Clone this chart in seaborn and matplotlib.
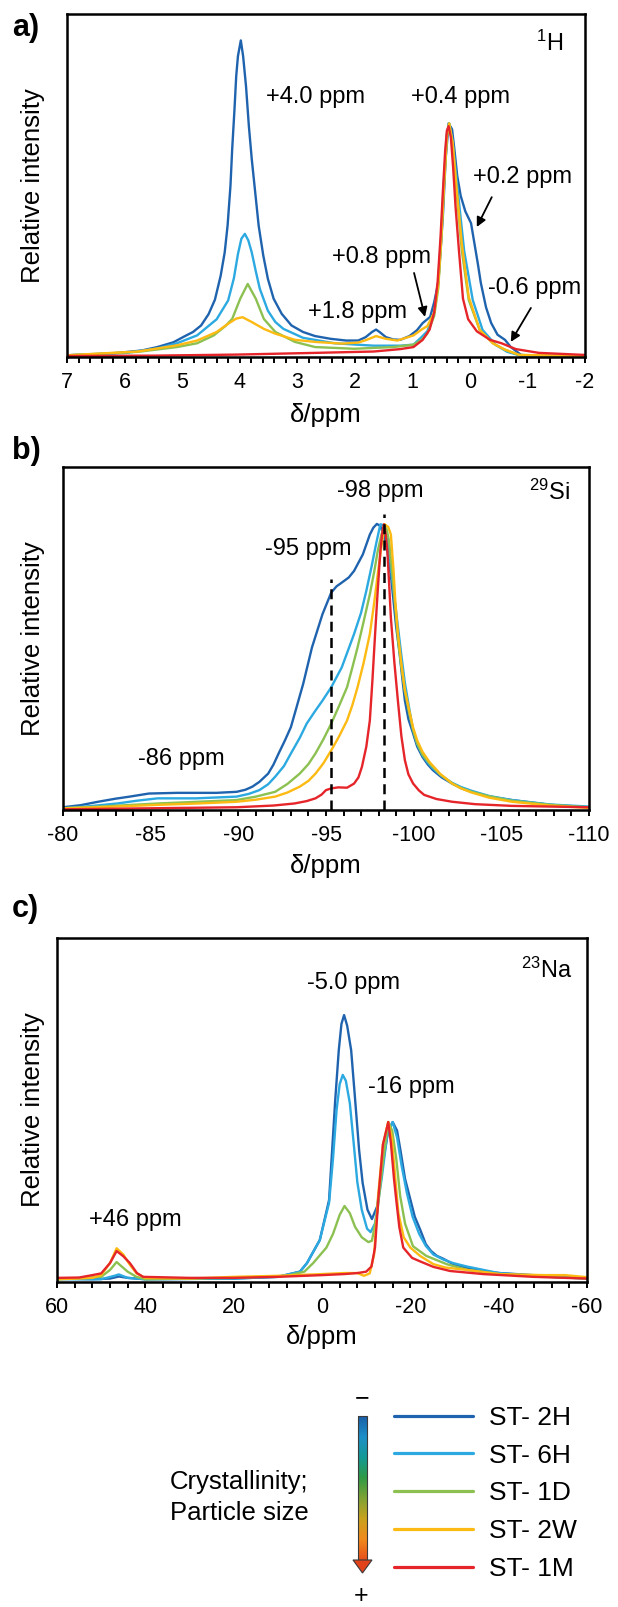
import numpy as np
import pandas as pd
import matplotlib
matplotlib.use("Agg")
import matplotlib.pyplot as plt
import seaborn as sns
from matplotlib.ticker import MultipleLocator
from matplotlib.colors import LinearSegmentedColormap
from matplotlib.patches import Polygon, Rectangle

# ---------------- data ----------------
SAMPLES = ["ST- 2H", "ST- 6H", "ST- 1D", "ST- 2W", "ST- 1M"]
COLORS = ["#1F63AE", "#2BA9E0", "#8CC152", "#FDBA12", "#E5252A"]

# panel a) 1H
A_2H_PPM = [7.00, 6.45, 6.11, 5.70, 5.43, 5.15, 4.95, 4.81, 4.67, 4.54, 4.43, 4.33, 4.26, 4.21, 4.16, 4.13, 4.09, 4.06,
            4.03, 3.98, 3.94, 3.89, 3.84, 3.79, 3.73, 3.67, 3.59, 3.51, 3.41, 3.27, 3.10, 2.90, 2.69, 2.42, 2.15, 1.94,
            1.81, 1.70, 1.63, 1.57, 1.46, 1.33, 1.21, 1.05, 0.92, 0.82, 0.74, 0.69, 0.62, 0.55, 0.51, 0.47, 0.42, 0.37,
            0.31, 0.27, 0.22, 0.16, 0.08, -0.02, -0.08, -0.14, -0.19, -0.28, -0.37, -0.48, -0.61, -0.71, -0.89, -1.20, -2.00]
A_2H_I = [0.5, 0.8, 1.2, 1.9, 2.9, 4.3, 6.1, 7.3, 9.2, 12.5, 16.7, 23.7, 30.5, 38.3, 49.9, 60.6, 72.2, 81.9,
          87.7, 92.3, 87.7, 79.0, 67.3, 57.7, 48.0, 38.3, 29.6, 22.8, 17.0, 12.6, 9.2, 7.3, 6.1, 5.3, 4.8, 4.8,
          5.8, 7.3, 8.0, 7.3, 5.8, 5.1, 5.0, 6.1, 7.8, 9.9, 11.0, 11.7, 16.0, 21.6, 31.0, 40.8, 58.0, 68.1,
          66.4, 60.6, 52.8, 47.0, 42.5, 39.0, 33.0, 27.0, 21.6, 14.5, 9.9, 6.5, 5.0, 2.9, 0.6, 0.3, 0.2]
A_6H_PPM = [7.00, 5.97, 5.43, 5.09, 4.74, 4.40, 4.20, 4.10, 4.03, 3.97, 3.91, 3.85, 3.79, 3.72, 3.65, 3.51, 3.38, 3.24,
            2.90, 2.35, 1.67, 1.21, 0.98, 0.84, 0.74, 0.62, 0.55, 0.50, 0.45, 0.40, 0.36, 0.30, 0.22, 0.10, -0.05,
            -0.22, -0.45, -0.65, -0.90, -2.00]
A_6H_I = [0.5, 1.2, 2.5, 4.0, 6.3, 11.0, 16.5, 23.0, 30.0, 34.5, 35.9, 34.0, 30.5, 25.0, 19.9, 13.5, 10.2, 8.2,
          5.6, 4.0, 3.3, 3.3, 3.6, 5.8, 7.5, 13.0, 22.0, 35.0, 52.0, 65.0, 68.1, 63.0, 50.0, 31.0, 16.6,
          7.9, 3.5, 1.5, 0.3, 0.2]
A_1D_PPM = [7.00, 5.77, 5.09, 4.74, 4.45, 4.25, 4.13, 3.99, 3.86, 3.72, 3.58, 3.38, 3.04, 2.69, 2.01, 1.33, 0.98, 0.84,
            0.74, 0.62, 0.55, 0.50, 0.45, 0.40, 0.36, 0.30, 0.23, 0.14, 0.02, -0.17, -0.40, -0.60, -0.85, -2.00]
A_1D_I = [0.5, 1.5, 2.9, 4.0, 6.3, 9.0, 11.1, 17.0, 21.3, 17.0, 11.1, 7.3, 4.4, 2.9, 2.4, 2.9, 3.6, 5.0,
          6.8, 12.0, 20.0, 33.0, 50.0, 64.0, 68.1, 62.0, 48.0, 31.0, 16.6, 7.9, 4.0, 2.2, 0.6, 0.2]
A_2W_PPM = [7.00, 5.77, 5.09, 4.74, 4.40, 4.20, 4.06, 3.95, 3.79, 3.58, 3.38, 3.04, 2.69, 2.22, 1.94, 1.81, 1.63, 1.46,
            1.26, 0.98, 0.84, 0.74, 0.62, 0.55, 0.50, 0.45, 0.40, 0.36, 0.30, 0.23, 0.14, 0.02, -0.17, -0.40, -0.60,
            -0.86, -2.00]
A_2W_I = [0.5, 1.6, 3.4, 4.8, 7.3, 9.7, 11.2, 11.6, 10.2, 8.2, 6.8, 5.0, 4.4, 3.9, 4.2, 4.9, 6.1, 5.3,
          4.8, 6.3, 8.0, 9.0, 13.0, 21.0, 34.0, 50.0, 64.5, 68.1, 62.5, 49.0, 33.0, 17.5, 7.9, 4.0, 2.2,
          0.6, 0.3]
A_1M_PPM = [7.00, 5.50, 4.06, 2.69, 1.67, 1.21, 0.98, 0.82, 0.70, 0.62, 0.56, 0.51, 0.47, 0.43, 0.40, 0.37, 0.33, 0.29,
            0.25, 0.19, 0.12, 0.03, -0.12, -0.35, -0.55, -0.80, -1.20, -2.00]
A_1M_I = [0.3, 0.4, 0.7, 1.2, 1.6, 2.3, 2.9, 5.0, 8.0, 13.0, 22.0, 35.0, 48.0, 60.0, 66.0, 67.3, 64.0, 55.0,
          44.0, 31.0, 17.0, 11.0, 7.5, 5.0, 4.0, 2.3, 1.2, 0.6]

# panel b) 29Si
B_2H_PPM = [-80.0, -81.0, -82.0, -83.0, -83.8, -84.9, -86.5, -88.75, -89.9, -90.4, -90.8, -91.2, -91.7, -92.0, -92.3,
            -92.65, -93.0, -93.35, -93.7, -94.2, -94.8, -95.3, -95.6, -95.9, -96.3, -96.6, -97.1, -97.5, -97.7, -97.9,
            -98.1, -98.3, -98.5, -98.7, -98.85, -99.0, -99.2, -99.35, -99.5, -99.7, -99.97, -100.2, -100.5, -100.8,
            -101.1, -101.6, -102.2, -102.7, -103.3, -104.3, -105.6, -107.8, -110.0]
B_2H_I = [0.8, 1.4, 2.4, 3.3, 3.9, 4.8, 5.0, 5.0, 5.3, 5.9, 6.8, 8.2, 10.6, 13.2, 16.5,
          20.2, 24.2, 30.5, 36.8, 47.4, 57.1, 63.4, 65.2, 66.3, 67.8, 69.7, 74.5, 80.3, 82.3, 83.4,
          82.8, 80.0, 75.5, 68.5, 61.0, 53.5, 45.5, 38.5, 31.9, 26.5, 22.3, 18.5, 15.5, 13.3,
          11.6, 9.5, 7.7, 6.4, 5.3, 3.9, 2.9, 1.5, 0.8]
B_6H_PPM = [-80.0, -81.5, -83.1, -84.2, -85.4, -87.6, -89.9, -90.6, -91.2, -91.7, -92.1, -92.6, -93.0, -93.5, -93.9,
            -94.4, -94.8, -95.3, -95.9, -96.6, -97.0, -97.3, -97.6, -97.85, -98.1, -98.3, -98.5, -98.7, -98.9, -99.1,
            -99.3, -99.5, -99.75, -99.97, -100.2, -100.5, -100.8, -101.1, -101.6, -102.2, -102.7, -103.3, -104.3,
            -105.6, -107.8, -110.0]
B_6H_I = [0.5, 1.1, 1.9, 2.7, 3.4, 3.4, 3.9, 4.7, 5.8, 7.5, 9.7, 12.8, 16.5, 21.0, 25.2,
          29.0, 31.9, 35.8, 41.6, 51.3, 57.5, 63.9, 71.0, 77.4, 83.3, 83.0, 78.5, 70.5, 62.0, 53.5,
          45.0, 37.0, 29.5, 23.2, 19.3, 16.0, 13.8, 12.1, 9.9, 7.9, 6.7, 5.6, 4.1,
          2.9, 1.6, 1.0]
B_1D_PPM = [-80.0, -82.5, -85.4, -87.7, -89.9, -91.0, -92.1, -92.8, -93.5, -94.0, -94.4, -94.85, -95.3, -95.75, -96.2,
            -96.5, -96.8, -97.15, -97.5, -97.75, -97.95, -98.15, -98.3, -98.45, -98.6, -98.8, -98.95, -99.1, -99.3,
            -99.5, -99.75, -99.97, -100.2, -100.5, -100.9, -101.5, -102.2, -102.7, -103.3, -104.3, -105.6, -107.8,
            -110.0]
B_1D_I = [0.5, 1.1, 1.9, 2.4, 2.9, 3.9, 5.3, 7.6, 10.6, 13.4, 16.5, 20.6, 25.2, 30.4, 35.8,
          41.5, 47.4, 55.0, 62.9, 69.5, 75.5, 80.0, 82.8, 82.0, 78.4, 68.0, 59.0, 50.0, 41.6,
          34.5, 28.1, 23.3, 19.4, 16.2, 13.6, 10.4, 7.7, 6.4, 5.3, 4.0, 2.7, 1.5,
          0.8]
B_2W_PPM = [-80.0, -82.5, -85.4, -87.7, -89.9, -91.0, -92.1, -92.8, -93.5, -94.0, -94.4, -94.85, -95.3, -95.75, -96.2,
            -96.5, -96.8, -97.15, -97.5, -97.75, -97.95, -98.15, -98.35, -98.55, -98.7, -98.85, -98.95, -99.1, -99.3,
            -99.5, -99.75, -99.97, -100.2, -100.5, -100.9, -101.5, -102.2, -102.7, -103.3, -104.3, -105.6, -107.8,
            -110.0]
B_2W_I = [0.5, 0.9, 1.5, 1.9, 2.4, 3.0, 3.9, 5.1, 6.8, 8.5, 10.6, 13.6, 17.4, 21.5, 26.1,
          30.5, 35.8, 43.0, 51.3, 60.5, 68.7, 76.5, 83.3, 82.5, 80.3, 70.0, 61.0, 51.5, 42.6,
          35.0, 29.0, 24.0, 20.3, 17.0, 14.0, 10.6, 7.7, 6.3, 5.1, 3.6, 2.4, 1.3,
          0.6]
B_1M_PPM = [-80.0, -85.0, -89.9, -92.0, -93.2, -93.9, -94.4, -94.75, -95.0, -95.3, -95.7, -96.2, -96.6, -96.85, -97.05,
            -97.3, -97.5, -97.65, -97.8, -97.95, -98.1, -98.2, -98.3, -98.4, -98.5, -98.6, -98.7, -98.9, -99.1, -99.3,
            -99.5, -99.7, -99.97, -100.3, -100.6, -101.3, -102.2, -103.5, -105.6, -110.0]
B_1M_I = [0.2, 0.5, 0.8, 1.3, 1.9, 2.6, 3.4, 4.5, 5.8, 6.3, 6.6, 6.5, 7.7, 9.5, 12.6,
          18.5, 26.1, 38.0, 51.3, 64.0, 75.5, 80.5, 83.3, 80.5, 75.5, 66.0, 56.1, 43.0, 31.9, 21.5,
          14.5, 10.4, 7.7, 5.7, 4.4, 3.2, 2.4, 1.7, 1.2, 0.8]
B_MARK_PPM = [-95.3, -98.3]
B_MARK_TOP = [67.3, 86.2]

# panel c) 23Na
C_2H_PPM = [60, 52, 48, 46, 44, 40, 20, 10, 5, 3.4, 0.5, -1.6, -2.3, -3.0, -3.8, -4.4, -5.0, -5.7, -6.6, -7.5, -8.4, -9.2,
            -10.3, -11.3, -12.5, -13.8, -15.0, -16.0, -17.0, -17.8, -18.8, -20.0, -21.0, -22.3, -23.5, -24.7, -26.0,
            -27.4, -29.7, -32.8, -36.0, -40.3, -47.8, -60]
C_2H_I = [1.0, 0.8, 1.0, 1.6, 1.2, 0.8, 1.0, 1.5, 3.0, 5.5, 12.2, 23.8, 38.4, 53.0, 67.4, 75.0, 77.6, 74.5, 67.4, 53.0,
          38.4, 28.8, 21.0, 18.3, 22.0, 35.0, 44.0, 46.5, 44.0, 38.0, 30.0, 24.0, 19.0, 15.0, 11.0, 9.0, 7.6,
          6.8, 5.2, 4.1, 3.2, 2.6, 2.0, 1.2]
C_6H_PPM = [60, 50, 47, 46, 44, 40, 20, 10, 5, 3.4, 0.5, -1.6, -2.5, -3.3, -4.0, -4.7, -5.4, -6.3, -7.2, -8.0, -9.0,
            -10.2, -11.0, -12.0, -13.5, -14.8, -16.0, -17.0, -18.0, -19.2, -20.5, -22.0, -23.5, -25.2, -27.5, -29.7,
            -32.8, -40, -50, -60]
C_6H_I = [0.8, 0.8, 1.8, 2.2, 1.2, 0.8, 1.0, 1.5, 3.0, 5.5, 12.2, 23.0, 36.0, 50.0, 57.5, 60.2, 58.5, 52.0, 40.0, 29.0,
          21.0, 15.5, 14.5, 17.0, 30.0, 43.0, 46.5, 42.0, 34.0, 26.0, 19.0, 14.0, 10.5, 8.0, 6.5, 5.5,
          4.5, 2.6, 1.6, 1.0]
C_1D_PPM = [60, 50, 48, 46.5, 44, 42, 40, 20, 8, 4, 2, -1, -2.5, -4.0, -5.1, -6.3, -7.5, -9.0, -10.5, -11.3, -12.5,
            -13.8, -15.0, -15.9, -16.8, -17.7, -18.8, -20.6, -23.6, -28.2, -33, -40, -50, -60]
C_1D_I = [0.8, 1.5, 3.5, 5.8, 3.0, 1.5, 0.8, 1.2, 1.8, 3.0, 5.5, 10.0, 14.0, 19.5, 22.1, 20.0, 16.0, 13.0, 11.6, 12.0, 20.0,
          35.0, 46.5, 44.0, 36.0, 25.0, 17.0, 10.4, 7.6, 5.2, 3.5, 2.3, 1.6, 1.0]
C_2W_PPM = [60, 55, 52, 50, 48, 46.5, 45, 43.5, 42, 40, 30, 20, 10, 0, -5, -8, -9.5, -10.8, -11.8, -12.7, -13.8, -15.0,
            -15.8, -16.6, -17.3, -18.5, -20, -22.2, -25.2, -28, -32.8, -40.3, -50, -55, -60]
C_2W_I = [0.8, 1.0, 1.2, 2.0, 5.5, 9.8, 8.0, 5.0, 2.5, 1.2, 1.0, 1.5, 1.8, 2.3, 2.6, 2.6, 1.8, 2.5, 8.0, 25.0, 40.0, 46.5,
          42.0, 30.0, 20.0, 13.0, 10.0, 7.6, 5.2, 4.2, 3.5, 2.3, 2.0, 2.0, 1.4]
C_1M_PPM = [60, 55, 52, 50, 48, 46.5, 45, 43.5, 41.9, 40.5, 30, 20, 10, 0, -5, -8, -10, -11.2, -12.0, -12.8, -13.8, -15.0,
            -15.6, -16.3, -16.8, -17.5, -18.4, -20.4, -22.2, -25.2, -29, -36.5, -47.8, -60]
C_1M_I = [1.2, 1.3, 2.0, 2.5, 5.5, 9.0, 7.5, 5.5, 2.6, 1.5, 1.2, 1.2, 1.5, 2.0, 2.3, 2.6, 3.0, 4.5, 10.0, 25.0, 40.0, 46.5,
          40.4, 30.0, 24.0, 16.0, 10.0, 7.0, 6.0, 4.4, 3.2, 2.3, 1.5, 1.0]

# annotations: (text, ppm, intensity)
A_LABELS = [("+4.0 ppm", 2.69, 75.8), ("+0.4 ppm", 0.17, 75.8), ("+0.2 ppm", -0.92, 52.5),
            ("+0.8 ppm", 1.53, 29.2), ("+1.8 ppm", 1.96, 13.1), ("-0.6 ppm", -1.13, 20.1)]
A_ARROWS = [((-0.38, 46.6), (-0.12, 37.9)), ((0.97, 24.5), (0.78, 11.7)), ((-1.06, 14.3), (-0.71, 4.4))]
B_LABELS = [("-98 ppm", -98.08, 93.0), ("-95 ppm", -93.98, 76.1), ("-86 ppm", -86.73, 14.9)]
C_LABELS = [("-5.0 ppm", -7.2, 86.9), ("-16 ppm", -20.3, 56.7), ("+46 ppm", 42.3, 18.0)]

# ---------------- style ----------------
sns.set_style("white")
plt.rcParams["font.family"] = ["Liberation Sans", "DejaVu Sans"]
plt.rcParams["axes.unicode_minus"] = False
plt.rcParams["mathtext.fontset"] = "custom"
plt.rcParams["mathtext.rm"] = "Liberation Sans"
plt.rcParams["mathtext.default"] = "regular"
plt.rcParams["text.color"] = "black"
plt.rcParams["axes.labelcolor"] = "black"
plt.rcParams["xtick.color"] = "black"

W, H = 618, 1607
fig = plt.figure(figsize=(W / 100, H / 100), dpi=100)


def rect(l, r, t, b):
    return [l / W, 1 - b / H, (r - l) / W, (b - t) / H]


def panel(box, series, xlim, major, minor, nucleus, nuc_pos, labels, xlab_off):
    l, r, t, b = box
    ax = fig.add_axes(rect(l, r, t, b))
    frames = [pd.DataFrame({"ppm": x, "I": y, "Sample": s}) for s, (x, y) in zip(SAMPLES, series)]
    df = pd.concat(frames, ignore_index=True)
    sns.lineplot(data=df, x="ppm", y="I", hue="Sample", hue_order=SAMPLES, palette=COLORS,
                 sort=False, estimator=None, lw=1.7, ax=ax, legend=False)
    ax.set_xlim(*xlim)
    ax.set_ylim(0, 100)
    ax.xaxis.set_major_locator(MultipleLocator(major))
    ax.xaxis.set_minor_locator(MultipleLocator(minor))
    ax.set_yticks([])
    ax.tick_params(axis="x", which="both", bottom=True, direction="out", length=4.5, width=1.4,
                   color="black", labelsize=15.5, pad=6)
    for sp in ax.spines.values():
        sp.set_visible(True)
        sp.set_linewidth(1.8)
        sp.set_color("black")
    ax.set_xlabel("δ/ppm", fontsize=18.5)
    ax.xaxis.label.set_va("center")
    ax.xaxis.set_label_coords(0.5, -xlab_off / (b - t))
    ax.set_ylabel("Relative intensity", fontsize=18.5)
    ax.yaxis.label.set_va("center")
    ax.yaxis.set_label_coords(-(l - 33) / (r - l), 0.5)
    ax.text(nuc_pos[0], nuc_pos[1], nucleus, ha="right", va="center", fontsize=17)
    for s, x, y in labels:
        ax.text(x, y, s, ha="center", va="center", fontsize=17)
    return ax


ax_a = panel((67, 585, 14, 357),
             [(A_2H_PPM, A_2H_I), (A_6H_PPM, A_6H_I), (A_1D_PPM, A_1D_I), (A_2W_PPM, A_2W_I), (A_1M_PPM, A_1M_I)],
             (7, -2), 1, 0.2, r"$^{1}$H", (-1.62, 91.5), A_LABELS, 58)
for tail, tip in A_ARROWS:
    ax_a.annotate("", xy=tip, xytext=tail,
                  arrowprops=dict(arrowstyle="-|>", color="black", lw=1.3, mutation_scale=14,
                                  shrinkA=0, shrinkB=0))

ax_b = panel((63, 589, 467, 810),
             [(B_2H_PPM, B_2H_I), (B_6H_PPM, B_6H_I), (B_1D_PPM, B_1D_I), (B_2W_PPM, B_2W_I), (B_1M_PPM, B_1M_I)],
             (-80, -110), 5, 1, r"$^{29}$Si", (-108.92, 92.7), B_LABELS, 56)
ax_b.vlines(B_MARK_PPM, 0, B_MARK_TOP, colors="black", linestyles=(0, (4, 2.5)), lw=1.8, zorder=5)

ax_c = panel((57, 587, 938, 1282),
             [(C_2H_PPM, C_2H_I), (C_6H_PPM, C_6H_I), (C_1D_PPM, C_1D_I), (C_2W_PPM, C_2W_I), (C_1M_PPM, C_1M_I)],
             (60, -60), 20, 4, r"$^{23}$Na", (-56.8, 90.7), C_LABELS, 55)

# panel letters
for letter, yp in [("a)", 28), ("b)", 451), ("c)", 909)]:
    fig.text(12 / W, 1 - yp / H, letter, ha="left", va="center", fontsize=22, fontweight="bold")

# legend
handles = ax_a.get_lines()[:5]
leg = fig.legend(handles, SAMPLES, loc="upper left", bbox_to_anchor=(394 / W, 1 - 1406 / H),
                 frameon=False, fontsize=19, handlelength=3.0, handletextpad=0.6,
                 labelspacing=0.52, borderpad=0, borderaxespad=0)
for ln in leg.get_lines():
    ln.set_linewidth(2.3)

fig.text(170 / W, 1 - 1482 / H, "Crystallinity;", ha="left", va="center", fontsize=18.5)
fig.text(170 / W, 1 - 1513 / H, "Particle size", ha="left", va="center", fontsize=18.5)
fig.text(362 / W, 1 - 1398 / H, "\u2212", ha="center", va="center", fontsize=18)
fig.text(361 / W, 1 - 1596 / H, "+", ha="center", va="center", fontsize=18)

# gradient arrow
cax = fig.add_axes(rect(348, 378, 1410, 1578))
cax.set_xlim(0, 30)
cax.set_ylim(168, 0)
cax.axis("off")
arrow_cmap = LinearSegmentedColormap.from_list(
    "cryst", ["#1A5FA8", "#1E8FC8", "#139A96", "#2F9A45", "#7FA334", "#C9A21E", "#F18A1C", "#E6501A"])
grad = np.linspace(0, 1, 256).reshape(-1, 1)
cax.imshow(grad, cmap=arrow_cmap, extent=(10, 19, 150, 6), aspect="auto", origin="upper", zorder=1)
cax.add_patch(Rectangle((10, 6), 9, 144, fill=False, ec="#3a3a3a", lw=0.8, zorder=2))
cax.add_patch(Polygon([(5, 150), (24, 150), (14.5, 163)], closed=True, fc="#E2421A", ec="#3a3a3a", lw=0.8, zorder=2))

fig.savefig("out.png", dpi=100)
